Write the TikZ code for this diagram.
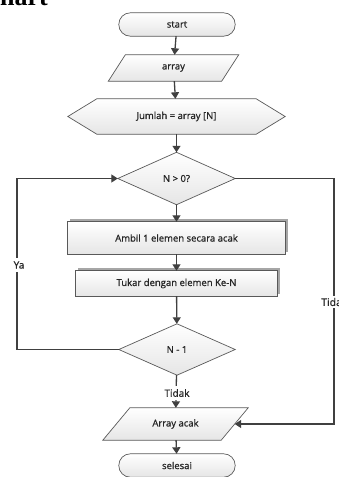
\documentclass[tikz,border=0pt]{standalone}
\usepackage{fontspec}
\setmainfont{Open Sans}
\newfontfamily\boxfont{Open Sans}[FakeBold=0.9]
\newfontfamily\headfont{Liberation Serif}
\usetikzlibrary{arrows.meta}
\definecolor{edge}{HTML}{595959}
\definecolor{wire}{HTML}{404040}
\tikzset{
  frame/.style={draw=none, inner sep=0pt, font=\boxfont\fontsize{9.5}{11}\selectfont, text=black!85},
  shapefill/.style={draw=edge, line width=0.7pt, top color=white, bottom color=black!10},
  flow/.style={draw=wire, line width=1.3pt, -{Triangle[width=8pt,length=6.5pt]}},
  tag/.style={fill=white, inner sep=3pt, font=\boxfont\fontsize{10}{12}\selectfont, text=black!85},
}
\begin{document}
\begin{tikzpicture}[x=1pt,y=-1pt]
\useasboundingbox (0,0) rectangle (338,477);

% heading, only its lower part lies on the page
\node[anchor=base west, inner sep=0pt, font=\headfont\bfseries\fontsize{26}{28}\selectfont] (head) at (0,5.5) {hart};

% node frames (used as anchors for the drawn outlines)
\node[frame, minimum width=116pt, minimum height=23pt] (start) at (177,24.5) {};
\node[frame, minimum width=130pt, minimum height=26pt] (arr) at (173.5,68) {};
\node[frame, minimum width=217pt, minimum height=35pt] (jml) at (176.5,116.5) {};
\node[frame, minimum width=117pt, minimum height=52pt] (cek) at (176.5,178.5) {};
\node[frame, minimum width=217pt, minimum height=32pt] (ambil) at (176.5,238) {};
\node[frame, minimum width=201pt, minimum height=25pt] (tukar) at (176.5,283.5) {};
\node[frame, minimum width=116pt, minimum height=51pt] (kurang) at (177,349.5) {};
\node[frame, minimum width=145pt, minimum height=32pt] (acak) at (175.5,424) {};
\node[frame, minimum width=116pt, minimum height=23pt] (selesai) at (177,465.5) {};

% outlines
\path[shapefill, rounded corners=11.5pt] (start.north west) rectangle (start.south east);
\path[shapefill, rounded corners=11.5pt] (selesai.north west) rectangle (selesai.south east);
\path[shapefill] ([xshift=17pt]arr.north west) -- (arr.north east) -- ([xshift=-17pt]arr.south east) -- (arr.south west) -- cycle;
\path[shapefill] ([xshift=27pt]acak.north west) -- (acak.north east) -- ([xshift=-27pt]acak.south east) -- (acak.south west) -- cycle;
\path[shapefill] (jml.west) -- ([xshift=29pt]jml.north west) -- ([xshift=-29pt]jml.north east) -- (jml.east) -- ([xshift=-29pt]jml.south east) -- ([xshift=29pt]jml.south west) -- cycle;
\path[shapefill] (cek.north) -- (cek.east) -- (cek.south) -- (cek.west) -- cycle;
\path[shapefill] (kurang.north) -- (kurang.east) -- (kurang.south) -- (kurang.west) -- cycle;
\fill[black!35] ([shift={(2.5pt,2.5pt)}]ambil.north west) rectangle ([shift={(2.5pt,2.5pt)}]ambil.south east);
\path[shapefill] (ambil.north west) rectangle (ambil.south east);
\fill[black!35] ([shift={(2.5pt,2.5pt)}]tukar.north west) rectangle ([shift={(2.5pt,2.5pt)}]tukar.south east);
\path[shapefill] (tukar.north west) rectangle (tukar.south east);

% texts on top of the fills
\node[frame] (startT) at (start) {start};
\node[frame] (arrT) at (arr) {array};
\node[frame] (jmlT) at (jml) {Jumlah = array [N]};
\node[frame] (cekT) at (cek) {N > 0?};
\node[frame] (ambilT) at (ambil) {Ambil 1 elemen secara acak};
\node[frame] (tukarT) at (tukar) {Tukar dengan elemen Ke-N};
\node[frame] (kurangT) at (kurang) {N - 1};
\node[frame] (acakT) at (acak) {Array acak};
\node[frame] (selesaiT) at (selesai) {selesai};

% connectors
\coordinate (loopL) at (17,0);
\coordinate (loopR) at (334,0);
\coordinate (acakR) at ([xshift=-13.5pt]acak.east);
\draw[flow] (start) -- (arr);
\draw[flow] (arr) -- (jml);
\draw[flow] (jml) -- (cek);
\draw[flow] (cek) -- (ambil);
\draw[flow] (ambil) -- (tukar);
\draw[flow] (tukar) -- (kurang);
\draw[flow] (kurang) -- (acak);
\draw[flow] (acak) -- (selesai);
\draw[flow] (kurang.west) -- (kurang.west -| loopL) |- (cek.west);
\draw[flow] (cek.east) -- (cek.east -| loopR) |- (acakR);

% branch labels
\node[tag] (ya) at (19,265) {Ya};
\node[tag, anchor=west, inner sep=1.5pt, font=\boxfont\fontsize{10.5}{12}\selectfont] (tidakR) at (319.5,302) {Tidak};
\node[tag] (tidak) at (177,393) {Tidak};
\end{tikzpicture}
\end{document}
